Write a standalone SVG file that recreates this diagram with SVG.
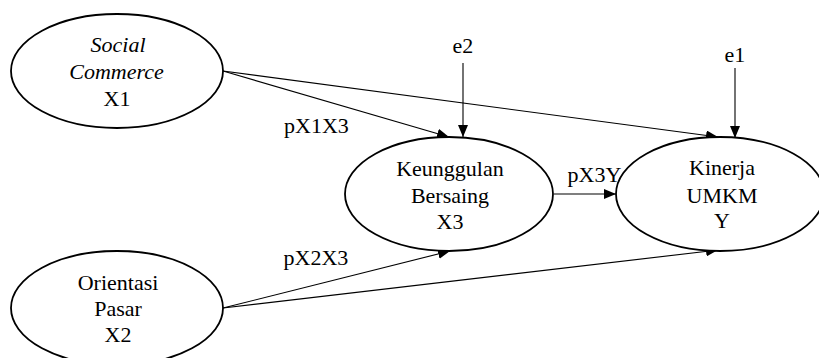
<svg xmlns="http://www.w3.org/2000/svg" width="819" height="358" viewBox="0 0 819 358">
  <defs>
    <marker id="arrow" viewBox="0 0 12 10" refX="12" refY="5" markerWidth="12" markerHeight="10" markerUnits="userSpaceOnUse" orient="auto">
      <path d="M0,0 L12,5 L0,10 Z" fill="#000000"/>
    </marker>
  </defs>
  <rect width="819" height="358" fill="#ffffff"/>

  <!-- connectors -->
  <g id="connectors" stroke="#000000" stroke-width="1.1" marker-end="url(#arrow)">
    <line x1="223" y1="71" x2="449" y2="137"/>
    <line x1="223" y1="71" x2="718" y2="137"/>
    <line x1="554" y1="194" x2="616" y2="194"/>
    <line x1="223" y1="308" x2="450" y2="251"/>
    <line x1="223" y1="308" x2="718" y2="250"/>
    <line x1="463" y1="63" x2="463" y2="137"/>
    <line x1="735" y1="68" x2="735" y2="138"/>
  </g>

  <g font-family="Liberation Serif" font-size="22" fill="#000000">
    <!-- Social Commerce X1 -->
    <g id="x1">
      <ellipse cx="117" cy="71" rx="106" ry="57" fill="#ffffff" stroke="#000000" stroke-width="1.8"/>
      <text x="90.5" y="52" font-family="Liberation Serif" font-style="italic">Social</text>
      <text x="69.3" y="79" font-family="Liberation Serif" font-style="italic">Commerce</text>
      <text x="103.6" y="106" font-family="Liberation Serif">X1</text>
    </g>

    <!-- Orientasi Pasar X2 -->
    <g id="x2">
      <ellipse cx="117" cy="308" rx="106" ry="57" fill="#ffffff" stroke="#000000" stroke-width="1.8"/>
      <text x="77.7" y="290" font-family="Liberation Serif">Orientasi</text>
      <text x="94.2" y="316" font-family="Liberation Serif">Pasar</text>
      <text x="104.6" y="342" font-family="Liberation Serif">X2</text>
    </g>

    <!-- Keunggulan Bersaing X3 -->
    <g id="x3">
      <ellipse cx="449" cy="194" rx="104" ry="57" fill="#ffffff" stroke="#000000" stroke-width="1.8"/>
      <text x="396.2" y="176" font-family="Liberation Serif">Keunggulan</text>
      <text x="410.9" y="203" font-family="Liberation Serif">Bersaing</text>
      <text x="436.6" y="229" font-family="Liberation Serif">X3</text>
    </g>

    <!-- Kinerja UMKM Y -->
    <g id="y">
      <ellipse cx="720" cy="194" rx="104" ry="57" fill="#ffffff" stroke="#000000" stroke-width="1.8"/>
      <text x="689" y="175" font-family="Liberation Serif">Kinerja</text>
      <text x="686.6" y="203" font-family="Liberation Serif">UMKM</text>
      <text x="714.1" y="228" font-family="Liberation Serif">Y</text>
    </g>

    <!-- error terms and path labels -->
    <g id="e2"><text x="452.6" y="53" font-family="Liberation Serif">e2</text></g>
    <g id="e1"><text x="724.6" y="62" font-family="Liberation Serif">e1</text></g>
    <text x="284" y="133" font-family="Liberation Serif">pX1X3</text>
    <text x="283.6" y="265" font-family="Liberation Serif">pX2X3</text>
    <text x="567.5" y="182" font-family="Liberation Serif">pX3Y</text>
  </g>
</svg>
